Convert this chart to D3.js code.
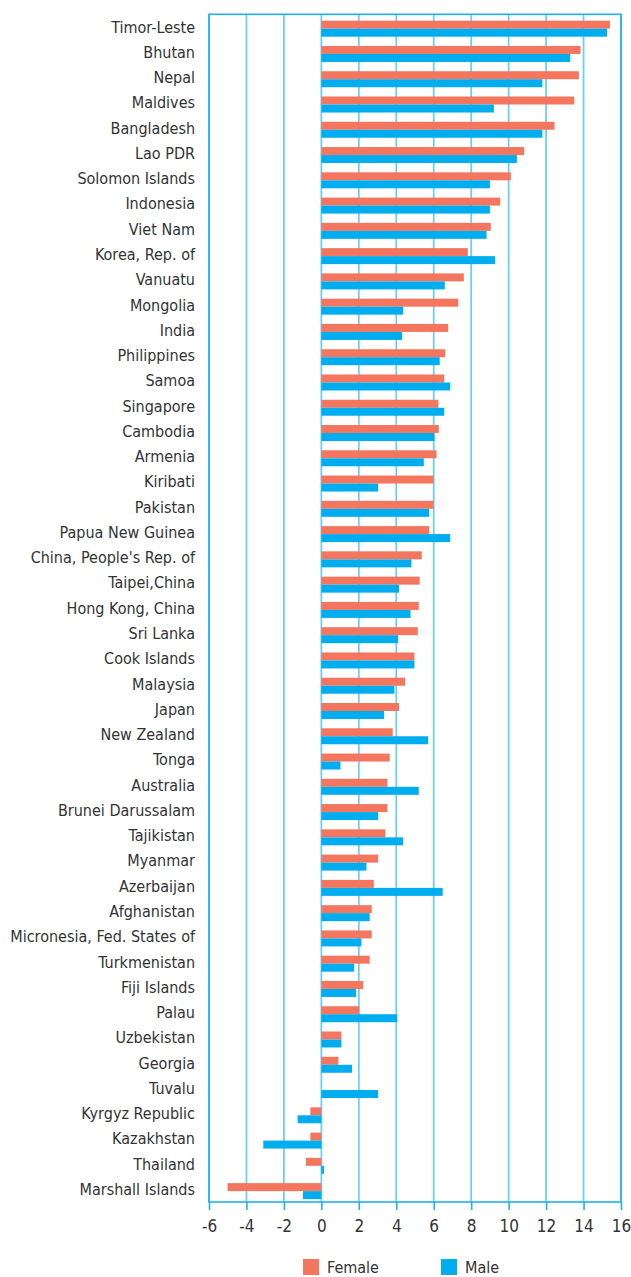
<!DOCTYPE html>
<html>
<head>
<meta charset="utf-8">
<script src="https://cdn.jsdelivr.net/npm/d3@7"></script>
<style>
  html, body { margin: 0; padding: 0; background: #fff; }
  svg text { font-family: "Liberation Sans Narrow", "Arial Narrow", "DejaVu Sans Condensed", sans-serif; fill: #333; }
</style>
</head>
<body>
<svg id="chart" width="631" height="1277"></svg>
<script>
// Economies, top to bottom
const economies = [
  "Timor-Leste", "Bhutan", "Nepal", "Maldives", "Bangladesh", "Lao PDR",
  "Solomon Islands", "Indonesia", "Viet Nam", "Korea, Rep. of", "Vanuatu",
  "Mongolia", "India", "Philippines", "Samoa", "Singapore", "Cambodia",
  "Armenia", "Kiribati", "Pakistan", "Papua New Guinea",
  "China, People's Rep. of", "Taipei,China", "Hong Kong, China", "Sri Lanka",
  "Cook Islands", "Malaysia", "Japan", "New Zealand", "Tonga", "Australia",
  "Brunei Darussalam", "Tajikistan", "Myanmar", "Azerbaijan", "Afghanistan",
  "Micronesia, Fed. States of", "Turkmenistan", "Fiji Islands", "Palau",
  "Uzbekistan", "Georgia", "Tuvalu", "Kyrgyz Republic", "Kazakhstan",
  "Thailand", "Marshall Islands"
];

const female = [
  15.41, 13.84, 13.75, 13.50, 12.45, 10.83,
  10.12, 9.55, 9.05, 7.82, 7.61,
  7.31, 6.77, 6.61, 6.56, 6.25, 6.27,
  6.15, 5.99, 5.99, 5.76,
  5.36, 5.25, 5.20, 5.15,
  4.97, 4.47, 4.15, 3.81, 3.65, 3.53,
  3.53, 3.42, 3.03, 2.80, 2.69,
  2.69, 2.58, 2.24, 2.03,
  1.07, 0.91, 0.00, -0.59, -0.59,
  -0.82, -5.01
];

const male = [
  15.25, 13.29, 11.80, 9.21, 11.80, 10.44,
  9.00, 9.00, 8.82, 9.28, 6.59,
  4.37, 4.31, 6.32, 6.88, 6.56, 6.04,
  5.47, 3.03, 5.76, 6.88,
  4.81, 4.15, 4.76, 4.10,
  4.97, 3.90, 3.35, 5.70, 1.02, 5.20,
  3.03, 4.37, 2.41, 6.48, 2.58,
  2.14, 1.75, 1.85, 4.05,
  1.07, 1.64, 3.03, -1.27, -3.10,
  0.14, -0.98
];

const xTicks = [-6, -4, -2, 0, 2, 4, 6, 8, 10, 12, 14, 16];
const seriesNames = ["Female", "Male"];
const seriesColors = ["#F4765E", "#00AEEF"];

const svg = d3.select("#chart");

const plot = { left: 209, right: 621, top: 14.3, bottom: 1202 };

const x = d3.scaleLinear().domain([-6, 16]).range([plot.left, plot.right]);
const y = d3.scaleBand().domain(economies).range([plot.top, plot.bottom]).padding(0);
const barOffset = y.bandwidth() * 0.253;
const sub = d3.scaleBand().domain(seriesNames).range([0, y.bandwidth() * 0.633]);
const color = d3.scaleOrdinal().domain(seriesNames).range(seriesColors);

// Vertical gridlines
svg.append("g")
  .selectAll("line")
  .data(xTicks)
  .join("line")
  .attr("x1", d => x(d)).attr("x2", d => x(d))
  .attr("y1", plot.top).attr("y2", plot.bottom)
  .attr("stroke", "#6DCFF6")
  .attr("stroke-width", 1.8);

// Bars
const rows = economies.map((name, i) => ({ name, values: [female[i], male[i]] }));
const groups = svg.append("g")
  .selectAll("g")
  .data(rows)
  .join("g")
  .attr("transform", d => `translate(0,${y(d.name) + barOffset})`);

groups.selectAll("rect")
  .data(d => seriesNames.map((s, k) => ({ series: s, value: d.values[k] })))
  .join("rect")
  .attr("x", d => x(Math.min(0, d.value)))
  .attr("width", d => Math.abs(x(d.value) - x(0)))
  .attr("y", d => sub(d.series))
  .attr("height", sub.bandwidth())
  .attr("fill", d => color(d.series));

// Frame
svg.append("rect")
  .attr("x", plot.left).attr("y", plot.top)
  .attr("width", plot.right - plot.left)
  .attr("height", plot.bottom - plot.top)
  .attr("fill", "none")
  .attr("stroke", "#1EB1EE")
  .attr("stroke-width", 1.6);

// Category labels
svg.append("g")
  .selectAll("text")
  .data(economies)
  .join("text")
  .attr("x", 195)
  .attr("y", d => y(d) + y.bandwidth() / 2)
  .attr("dy", "0.35em")
  .attr("text-anchor", "end")
  .style("font-size", "16px")
  .text(d => d);

// Bottom axis
const xAxis = d3.axisBottom(x).tickValues(xTicks).tickSize(8).tickPadding(10).tickFormat(d3.format("d"));
const axisG = svg.append("g")
  .attr("transform", `translate(0,${plot.bottom})`)
  .call(xAxis);
axisG.select(".domain").remove();
axisG.selectAll(".tick line").attr("stroke", "#1EB1EE").attr("stroke-width", 1.6);
axisG.selectAll(".tick text")
  .style("font-size", "17px")
  .style("font-family", "\"Liberation Sans Narrow\", \"Arial Narrow\", \"DejaVu Sans Condensed\", sans-serif")
  .attr("fill", "#333")
  .text(d => d < 0 ? "-" + Math.abs(d) : d);

// Legend
const legend = svg.append("g").attr("transform", "translate(0,1259)");
const legendX = [303, 441];
seriesNames.forEach((s, k) => {
  legend.append("rect")
    .attr("x", legendX[k]).attr("y", 0)
    .attr("width", 16).attr("height", 16)
    .attr("fill", color(s));
  legend.append("text")
    .attr("x", legendX[k] + 24).attr("y", 14)
    .style("font-size", "16px")
    .text(s);
});
</script>
</body>
</html>
